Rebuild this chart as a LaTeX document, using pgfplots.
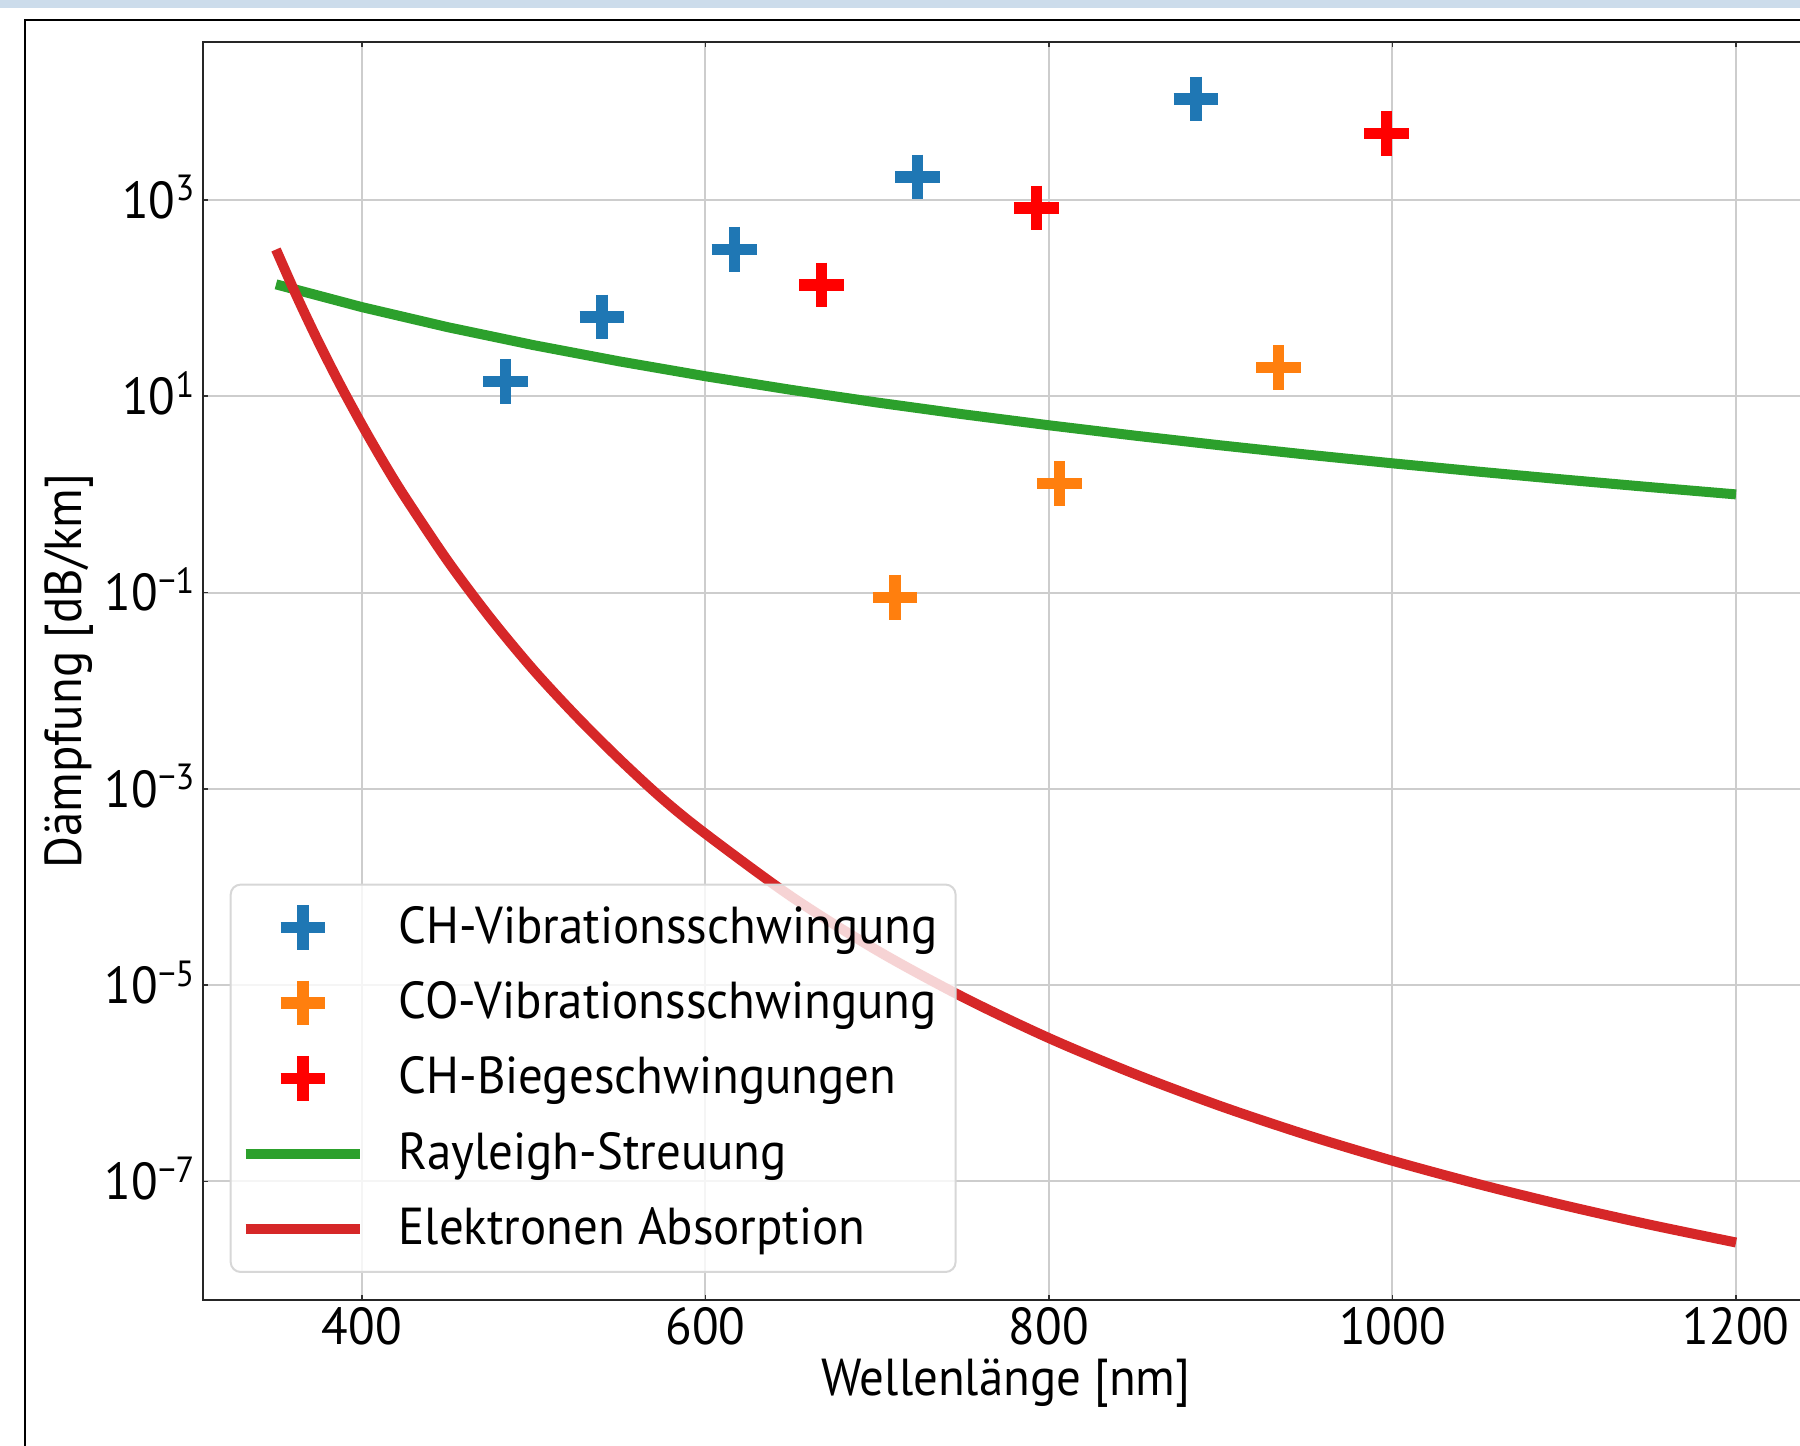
\documentclass[border=0pt]{standalone}
\usepackage{fontspec}
\setmainfont{PT Sans}[FakeStretch=0.94]
\usepackage{pgfplots}
\pgfplotsset{compat=1.18}
\definecolor{mblue}{HTML}{1F77B4}
\definecolor{morange}{HTML}{FF7F0E}
\definecolor{mred}{HTML}{FF0000}
\definecolor{mgreen}{HTML}{2CA02C}
\definecolor{mdred}{HTML}{D62728}
\definecolor{band}{HTML}{CCDCEB}
\definecolor{gridc}{RGB}{205,205,205}
\definecolor{legc}{RGB}{215,215,215}
\newcommand\cf{\fontsize{13pt}{15pt}\selectfont}
\pgfplotsset{
  markleg/.style={legend image code/.code={\draw[mark repeat=2,mark phase=2,##1] plot coordinates {(0pt,0pt) (14.35pt,0pt) (28.7pt,0pt)};}},
  lineleg/.style={legend image code/.code={\draw[##1] (0pt,0pt) -- (28.7pt,0pt);}},
}

\pgfplotstableread{
x y
350 138.2
400 81
450 50.57
500 33.18
550 22.66
600 16
650 11.62
700 8.636
750 6.554
800 5.0625
850 3.972
900 3.160
950 2.546
1000 2.0736
1050 1.706
1100 1.416
1150 1.186
1200 1.0
}\rayleigh

\pgfplotstableread{
x y
350 313
362.5 100.7
375 34.9
387.5 12.97
400 5.13
412.5 2.14
425 0.944
450 0.2094
475 0.0545
500 0.0162
525 0.00546
550 0.0020
575 7.9e-4
600 3.49e-4
650 7.98e-5
700 2.25e-5
750 7.53e-6
800 2.88e-6
850 1.24e-6
900 5.83e-7
950 2.97e-7
1000 1.62e-7
1050 9.37e-8
1100 5.69e-8
1150 3.61e-8
1200 2.38e-8
}\elektron

\begin{document}
\begin{tikzpicture}
\useasboundingbox (0,0) rectangle (450pt,-361.5pt);
\clip (0,0) rectangle (450pt,-361.5pt);
\fill[band] (0,0) rectangle (450pt,-2.1pt);
\draw[black, line width=0.6pt] (6.25pt,-370pt) -- (6.25pt,-5pt) -- (460pt,-5pt);
\begin{axis}[
  at={(50.75pt,-10.5pt)}, anchor=north west,
  scale only axis, width=401.5pt, height=314.5pt,
  ymode=log, log basis y=10,
  xmin=307.5, xmax=1242.5,
  ymin=6.17e-9, ymax=40738,
  xtick={400,600,800,1000,1200},
  xticklabels={400,600,800,1000,1200},
  ytick={1e-7,1e-5,1e-3,1e-1,1e1,1e3},
  yticklabels={10\textsuperscript{−7},10\textsuperscript{−5},10\textsuperscript{−3},10\textsuperscript{−1},10\textsuperscript{1},10\textsuperscript{3}},
  minor ytick={}, yminorticks=false, xminorticks=false,
  tick align=inside, major tick length=1.3pt,
  tick style={black!80, line width=0.4pt},
  grid=major, major grid style={gridc, line width=0.5pt},
  axis line style={black!85, line width=0.5pt},
  xticklabel style={font=\cf, anchor=center, inner sep=0pt, yshift=-6.5pt},
  yticklabel style={font=\cf, anchor=base east, inner sep=0pt, xshift=-1.5pt, yshift=-4.6pt},
  xlabel={Wellenlänge [nm]}, ylabel={Dämpfung [dB/km]},
  xlabel style={font=\cf, at={(axis description cs:0.5,-0.066)}, anchor=center},
  ylabel style={font=\cf, at={(axis description cs:-0.0834,0.5)}, anchor=center},
  legend style={at={(axis description cs:0.0166,0.0215)}, anchor=south west,
    draw=legc, fill=white, fill opacity=0.8, draw opacity=1, text opacity=1,
    rounded corners=2.5pt, line width=0.5pt, font=\cf,
    inner xsep=2.5pt, inner ysep=3.4pt, row sep=4.07pt,
    /tikz/every odd column/.append style={column sep=6.3pt}},
  legend cell align=left,
]
\addplot[only marks, mark=+, mark size=5.6pt, line width=2.8pt, color=mblue, markleg]
  coordinates {(483.6,14.2) (539.8,64.1) (616.7,314) (723.7,1714) (885.6,10690)};
\addlegendentry{CH-Vibrationsschwingung}
\addplot[only marks, mark=+, mark size=5.6pt, line width=2.8pt, color=morange, markleg]
  coordinates {(710.4,0.0898) (806.0,1.29) (933.8,19.6)};
\addlegendentry{CO-Vibrationsschwingung}
\addplot[only marks, mark=+, mark size=5.6pt, line width=2.8pt, color=mred, markleg]
  coordinates {(667.6,136) (792.6,828) (996.7,4766)};
\addlegendentry{CH-Biegeschwingungen}
\addplot[mgreen, line width=2.5pt, no marks, lineleg]
  table[x=x,y=y] {\rayleigh};
\addlegendentry{Rayleigh-Streuung}
\addplot[mdred, line width=2.5pt, no marks, smooth, lineleg]
  table[x=x,y=y] {\elektron};
\addlegendentry{Elektronen Absorption}
\end{axis}
\end{tikzpicture}
\end{document}
